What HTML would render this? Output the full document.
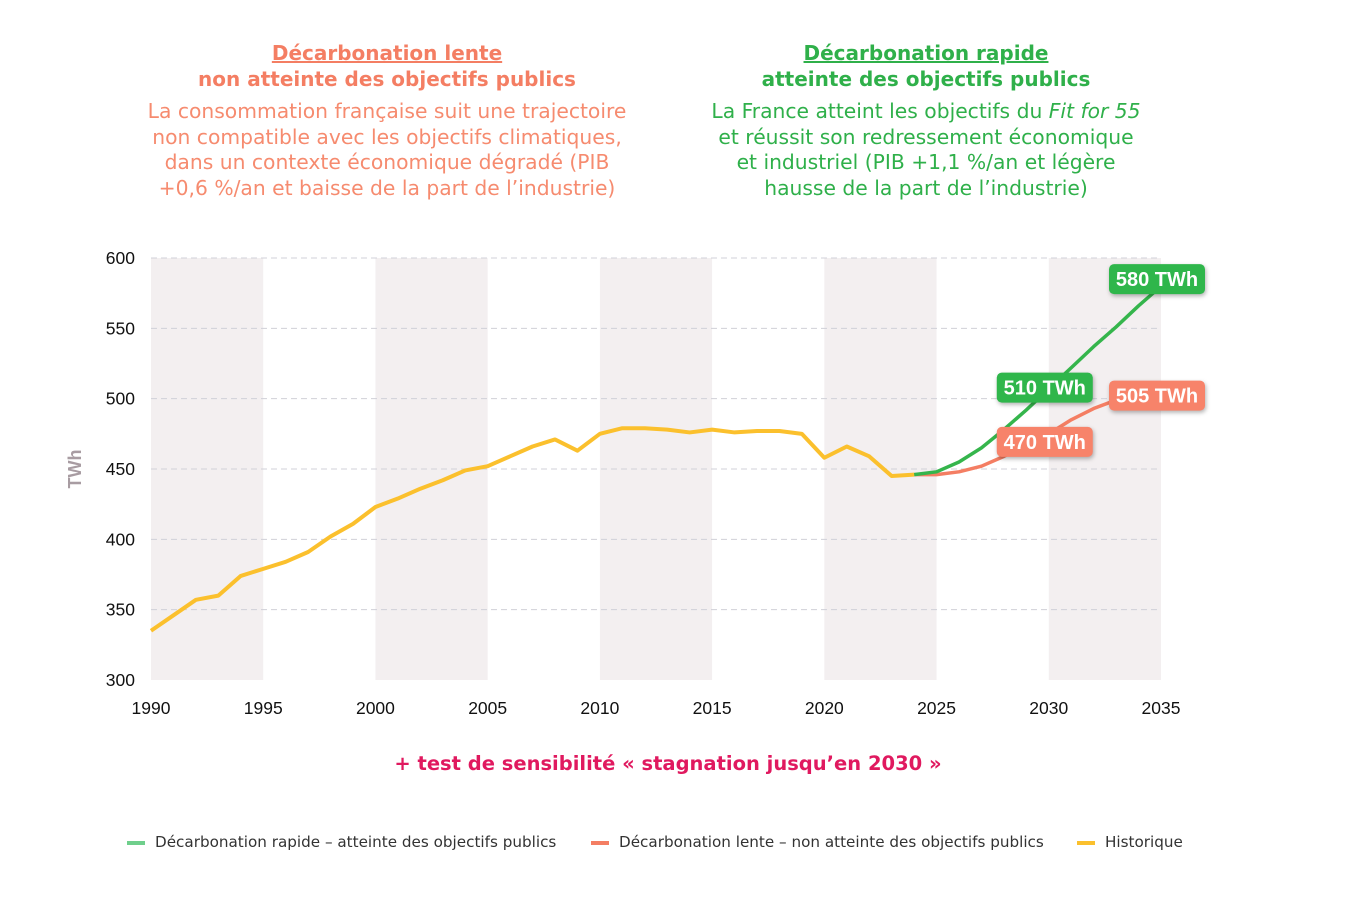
<!DOCTYPE html>
<html><head><meta charset="utf-8">
<style>
body{margin:0;width:1346px;height:902px;background:#fff;font-family:"Liberation Sans","DejaVu Sans",sans-serif;overflow:hidden;position:relative}
.t{position:absolute;text-align:center;font-family:"DejaVu Sans","Liberation Sans",sans-serif}
.h{font-weight:bold;font-size:20px;line-height:26px}
.p{font-size:20.3px;line-height:25.7px}
.leg{position:absolute;top:833px;font-size:15.2px;color:#333;font-family:"DejaVu Sans",sans-serif}
.leg span{display:inline-block;width:18px;height:4px;vertical-align:middle;margin-right:10px}
svg text{font-family:"Liberation Sans",Arial,sans-serif}
</style></head><body>
<div class="t" style="left:100px;width:574px;top:40px;color:#f47e63"><div class="h"><u>Décarbonation lente</u><br>non atteinte des objectifs publics</div><div class="p" style="color:#f68b6f;margin-top:7px">La consommation française suit une trajectoire<br>non compatible avec les objectifs climatiques,<br>dans un contexte économique dégradé (PIB<br>+0,6 %/an et baisse de la part de l’industrie)</div></div>
<div class="t" style="left:640px;width:572px;top:40px;color:#2fb04a"><div class="h"><u>Décarbonation rapide</u><br>atteinte des objectifs publics</div><div class="p" style="margin-top:7px">La France atteint les objectifs du <i>Fit for 55</i><br>et réussit son redressement économique<br>et industriel (PIB +1,1 %/an et légère<br>hausse de la part de l’industrie)</div></div>
<svg id="chart" width="1346" height="902" style="position:absolute;left:0;top:0"></svg>
<div class="t" style="left:0;width:1336px;top:752px;font-size:19.5px;font-weight:bold;color:#e0195f">+ test de sensibilité « stagnation jusqu’en 2030 »</div>
<div class="leg" style="left:127px"><span style="background:#6fcf8c"></span>Décarbonation rapide – atteinte des objectifs publics</div>
<div class="leg" style="left:591px"><span style="background:#f47e63"></span>Décarbonation lente – non atteinte des objectifs publics</div>
<div class="leg" style="left:1077px"><span style="background:#fbc02d"></span>Historique</div>
<script>
const histYears=[1990,1991,1992,1993,1994,1995,1996,1997,1998,1999,2000,2001,2002,2003,2004,2005,2006,2007,2008,2009,2010,2011,2012,2013,2014,2015,2016,2017,2018,2019,2020,2021,2022,2023,2024];
const histValues=[335,346,357,360,374,379,384,391,402,411,423,429,436,442,449,452,459,466,471,463,475,479,479,478,476,478,476,477,477,475,458,466,459,445,446];
const projYears=[2024,2025,2026,2027,2028,2029,2030,2031,2032,2033,2034,2035];
const fastValues=[446,448,455,465,478,492,507,522,537,551,566,580];
const slowValues=[446,446,448,452,459,467,475,485,493,499,504,505];
const yTicks=[300,350,400,450,500,550,600];
const xTicks=[1990,1995,2000,2005,2010,2015,2020,2025,2030,2035];
const labels=[{year:2035,value:580,text:"580 TWh",c:"#2fb64b",dx:-4,dy:-7},{year:2030,value:510,text:"510 TWh",c:"#2fb64b",dx:-4,dy:3},{year:2035,value:505,text:"505 TWh",c:"#f7836a",dx:-4,dy:4},{year:2030,value:470,text:"470 TWh",c:"#f7836a",dx:-4,dy:1}];
const NS="http://www.w3.org/2000/svg",svg=document.getElementById('chart');
const X=y=>151+(y-1990)*(1010/45), Y=v=>680-(v-300)*(422/300);
function el(t,a,p){const e=document.createElementNS(NS,t);for(const k in a)e.setAttribute(k,a[k]);(p||svg).appendChild(e);return e;}
for(let i=0;i<xTicks.length-1;i+=2){const b=el('rect',{x:X(xTicks[i]),y:Y(600),width:X(xTicks[i+1])-X(xTicks[i]),height:Y(300)-Y(600),fill:'#f3eff0'});

}
yTicks.forEach(v=>{if(v>300){const g=el('line',{x1:151,x2:1161,y1:Y(v),y2:Y(v),stroke:'#d0d0d8','stroke-dasharray':'6 4','stroke-width':1});

}
const t=el('text',{x:135,y:Y(v)+6,'text-anchor':'end','font-size':17.5,fill:'#111'});t.textContent=v;

});
xTicks.forEach(x=>{const t=el('text',{x:X(x),y:714,'text-anchor':'middle','font-size':17.5,fill:'#111'});t.textContent=x;

});
const yt=el('text',{x:0,y:0,transform:'translate(81,469) rotate(-90)','text-anchor':'middle','font-size':18,'font-weight':'bold',fill:'#a89ca2'});yt.textContent='TWh';


function line(xs,vs,c,w,name){const p=el('polyline',{points:xs.map((x,i)=>X(x)+','+Y(vs[i])).join(' '),fill:'none',stroke:c,'stroke-width':w,'stroke-linejoin':'round'});

}
line(projYears,slowValues,'#f47e63',3.5,'slow-series-line');
line(projYears,fastValues,'#35b54c',3.5,'fast-series-line');
line(histYears,histValues,'#fbc02d',4,'historic-series-line');
labels.forEach(l=>{const g=el('g',{});


const cx=X(l.year)+l.dx,cy=Y(l.value)+l.dy;
el('rect',{x:cx-48,y:cy-15,width:96,height:30,rx:5,fill:l.c,style:'filter:drop-shadow(1px 2px 2px rgba(0,0,0,.3))'},g);
const t=el('text',{x:cx,y:cy+7,'text-anchor':'middle','font-size':20,'font-weight':'bold',fill:'#fff'},g);t.textContent=l.text;});
</script>
</body></html>
